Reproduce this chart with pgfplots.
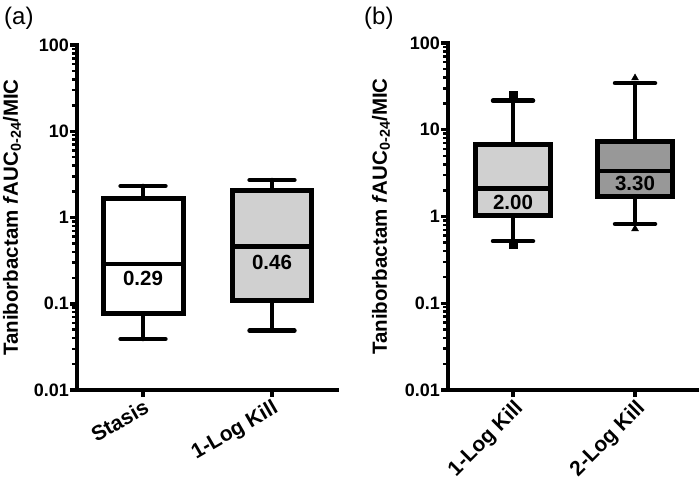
\documentclass[border=0pt]{standalone}
\usepackage{pgfplots}
\pgfplotsset{compat=1.18}
\usepackage{fontspec}
\setmainfont{Liberation Sans}
\definecolor{lgray}{RGB}{208,208,208}
\definecolor{dgray}{RGB}{152,152,152}
\tikzset{
  wh/.style={black, line width=4.5pt, line cap=round},
  bx/.style={draw=black, line width=5pt, line join=miter},
  vl/.style={font=\bfseries\fontsize{20.5}{20.5}\selectfont},
}
\begin{document}
\begin{tikzpicture}[x=1pt,y=1pt]
\path[use as bounding box] (0,0) rectangle (700,492);
\node[anchor=north west, font=\fontsize{24}{24}\selectfont, inner sep=0] at (4,485) {(a)};
\node[anchor=north west, font=\fontsize{24}{24}\selectfont, inner sep=0] at (364,485) {(b)};
% Panel (a)
\begin{axis}[at={(77pt,102pt)}, anchor=south west, width=260pt, height=345pt,
  scale only axis, ymode=log, ymin=0.01, ymax=100,
  axis lines=left,
  axis line style={-, line width=4.5pt, line cap=rect},
  ytick={0.01,0.1,1,10,100},
  yticklabels={0.01,0.1,1,10,100},
  yticklabel style={font=\bfseries\fontsize{18}{18}\selectfont, inner sep=1pt},
  xticklabel style={font=\bfseries\fontsize{21}{21}\selectfont, inner sep=1pt, anchor=north east, rotate=30},
  tick align=outside,
  major tick length=7pt, minor tick length=5pt,
  major tick style={line width=3.5pt, black},
  minor tick style={line width=2.5pt, black},
  xtick={0,1},
  clip=false,
  ylabel style={at={(axis description cs:-0.25,0.5)}, anchor=center,
    font=\bfseries\fontsize{20.5}{20.5}\selectfont},
  ylabel={Taniborbactam \textit{f}AUC\textsubscript{0-24}/MIC},
  xmin=-0.512, xmax=1.504,
  xticklabels={Stasis,1-Log Kill}]
% Stasis
\addplot[wh, forget plot] coordinates {(0,1.64) (0,2.32)};
\addplot[wh, forget plot] coordinates {(-0.174,2.32) (0.174,2.32)};
\addplot[wh, forget plot] coordinates {(0,0.077) (0,0.039)};
\addplot[wh, forget plot] coordinates {(-0.174,0.039) (0.174,0.039)};
\addplot[bx, fill=white, forget plot] coordinates {(-0.31,0.077) (0.31,0.077) (0.31,1.64) (-0.31,1.64) (-0.31,0.077) (0.31,0.077)};
\addplot[wh, line cap=butt, forget plot] coordinates {(-0.31,0.29) (0.31,0.29)};
\node[vl] at (axis cs:0,0.29) [yshift=-15pt] {0.29};
% 1-Log Kill
\addplot[wh, forget plot] coordinates {(1,2.04) (1,2.72)};
\addplot[wh, forget plot] coordinates {(0.826,2.72) (1.174,2.72)};
\addplot[wh, forget plot] coordinates {(1,0.11) (1,0.0487)};
\addplot[wh, forget plot] coordinates {(0.826,0.0487) (1.174,0.0487)};
\addplot[bx, fill=lgray, forget plot] coordinates {(0.69,0.11) (1.31,0.11) (1.31,2.04) (0.69,2.04) (0.69,0.11) (1.31,0.11)};
\addplot[wh, line cap=butt, forget plot] coordinates {(0.69,0.46) (1.31,0.46)};
\node[vl] at (axis cs:1,0.46) [yshift=-16pt] {0.46};
\end{axis}
% Panel (b)
\begin{axis}[at={(448pt,102pt)}, anchor=south west, width=249pt, height=347pt,
  scale only axis, ymode=log, ymin=0.01, ymax=100,
  axis lines=left,
  axis line style={-, line width=4.5pt, line cap=rect},
  ytick={0.01,0.1,1,10,100},
  yticklabels={0.01,0.1,1,10,100},
  yticklabel style={font=\bfseries\fontsize{18}{18}\selectfont, inner sep=1pt},
  xticklabel style={font=\bfseries\fontsize{21}{21}\selectfont, inner sep=1pt, anchor=north east, rotate=45},
  tick align=outside,
  major tick length=7pt, minor tick length=5pt,
  major tick style={line width=3.5pt, black},
  minor tick style={line width=2.5pt, black},
  xtick={0,1},
  clip=false,
  ylabel style={at={(axis description cs:-0.269,0.5)}, anchor=center,
    font=\bfseries\fontsize{20.5}{20.5}\selectfont},
  ylabel={Taniborbactam \textit{f}AUC\textsubscript{0-24}/MIC},
  xmin=-0.533, xmax=1.508,
  xticklabels={1-Log Kill,2-Log Kill}]
% 1-Log Kill
\addplot[wh, forget plot] coordinates {(0,6.85) (0,21.6)};
\addplot[wh, forget plot] coordinates {(-0.164,21.6) (0.164,21.6)};
\addplot[wh, forget plot] coordinates {(0,1.04) (0,0.52)};
\addplot[wh, forget plot] coordinates {(-0.164,0.52) (0.164,0.52)};
\addplot[only marks, mark=square*, mark size=4pt, black, forget plot] coordinates {(0,25.2) (0,0.48)};
\addplot[bx, fill=lgray, forget plot] coordinates {(-0.31,1.04) (0.31,1.04) (0.31,6.85) (-0.31,6.85) (-0.31,1.04) (0.31,1.04)};
\addplot[wh, line cap=butt, forget plot] coordinates {(-0.31,2.1) (0.31,2.1)};
\node[vl] at (axis cs:0,2.1) [yshift=-14pt] {2.00};
% 2-Log Kill
\addplot[wh, forget plot] coordinates {(1,7.26) (1,34.5)};
\addplot[wh, forget plot] coordinates {(0.836,34.5) (1.164,34.5)};
\addplot[wh, forget plot] coordinates {(1,1.72) (1,0.82)};
\addplot[wh, forget plot] coordinates {(0.836,0.82) (1.164,0.82)};
\addplot[only marks, mark=triangle*, mark size=4pt, black, forget plot] coordinates {(1,39.5) (1,0.72)};
\addplot[bx, fill=dgray, forget plot] coordinates {(0.69,1.72) (1.31,1.72) (1.31,7.26) (0.69,7.26) (0.69,1.72) (1.31,1.72)};
\addplot[wh, line cap=butt, forget plot] coordinates {(0.69,3.35) (1.31,3.35)};
\node[vl] at (axis cs:1,3.35) [yshift=-13pt] {3.30};
\end{axis}
\end{tikzpicture}
\end{document}
